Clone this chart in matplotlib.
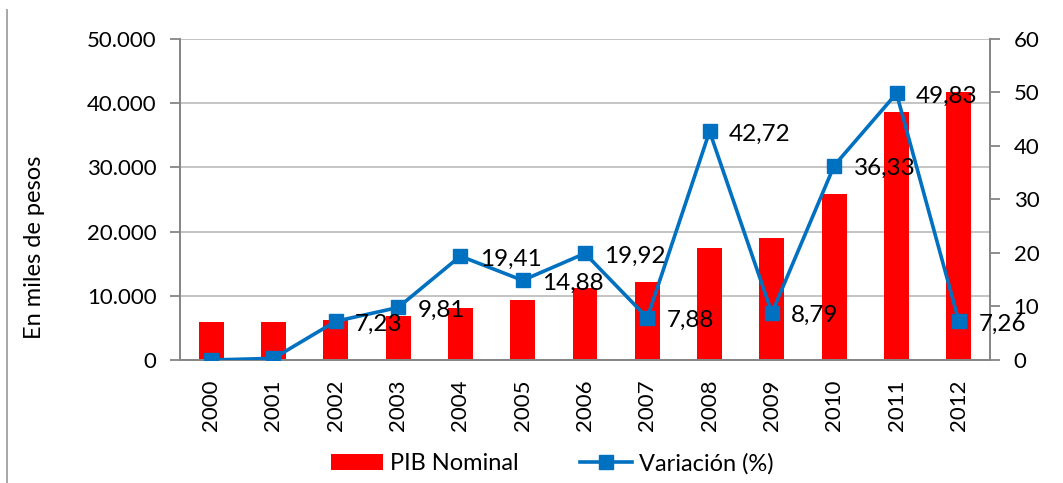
import matplotlib.pyplot as plt
import numpy as np
from matplotlib.lines import Line2D
from matplotlib.ticker import FuncFormatter

plt.rcParams['font.family'] = ['Lato', 'DejaVu Sans']

# data
years = ['2000', '2001', '2002', '2003', '2004', '2005', '2006',
         '2007', '2008', '2009', '2010', '2011', '2012']
pib = [5900, 5900, 6250, 6850, 8100, 9350, 11200,
       12150, 17450, 19000, 25850, 38600, 41750]
variacion = [0.0, 0.3, 7.23, 9.81, 19.41, 14.88, 19.92,
             7.88, 42.72, 8.79, 36.33, 49.83, 7.26]
labeled = [False, False] + [True] * 11

fig = plt.figure(figsize=(10.63, 4.83), dpi=100)
ax = fig.add_axes([0.1693, 0.2547, 0.762, 0.6646])
ax2 = ax.twinx()

x = np.arange(len(years))
gray = '#868686'

# bars
ax.bar(x, pib, width=0.4, color='#FF0000', label='PIB Nominal', zorder=2)
ax.set_xlim(-0.5, len(years) - 0.5)
ax.set_ylim(0, 50000)
ax.set_yticks(np.arange(0, 50001, 10000))
ax.yaxis.set_major_formatter(FuncFormatter(lambda v, p: f'{int(v):,}'.replace(',', '.')))
ax.grid(axis='y', color='#BFBFBF', linewidth=1.3, zorder=0)
ax.set_axisbelow(True)
ax.set_xticks(x)
ax.set_xticklabels(years, rotation=90, fontsize=16)
ax.tick_params(axis='x', length=0, pad=14)
ax.tick_params(axis='y', labelsize=16, color=gray, length=7, width=1.3, pad=10)
ax.set_ylabel('En miles de pesos', fontsize=17)
ax.yaxis.set_label_coords(-0.167, 0.35)

# line
ax2.plot(x, variacion, color='#0070C0', linewidth=2.6, marker='s',
         markersize=10, label='Variación (%)', zorder=3)
ax2.set_ylim(0, 60)
ax2.set_yticks(np.arange(0, 61, 10))
ax2.tick_params(axis='y', labelsize=16, color=gray, length=7, width=1.3, pad=10)

for i, v in enumerate(variacion):
    if labeled[i]:
        ax2.annotate(f'{v:.2f}'.replace('.', ','), (x[i], v), xytext=(14, -2),
                     textcoords='offset points', ha='left', va='center', fontsize=17.5)

for a in (ax, ax2):
    a.spines['top'].set_visible(False)
    a.spines['left'].set_color(gray)
    a.spines['right'].set_color(gray)
    a.spines['bottom'].set_color(gray)
    for s in a.spines.values():
        s.set_linewidth(1.3)

# legend
h1, l1 = ax.get_legend_handles_labels()
h2, l2 = ax2.get_legend_handles_labels()
fig.legend(h1 + h2, l1 + l2, loc='center', bbox_to_anchor=(0.52, 0.04),
           ncol=2, frameon=False, fontsize=17, handlelength=2.2,
           columnspacing=2.6, handletextpad=0.3)

# chart border on the left
fig.add_artist(Line2D([0.007, 0.007], [0.0, 0.98], color='#A0A0A0', linewidth=1.3))

fig.savefig('out.png', dpi=100)
